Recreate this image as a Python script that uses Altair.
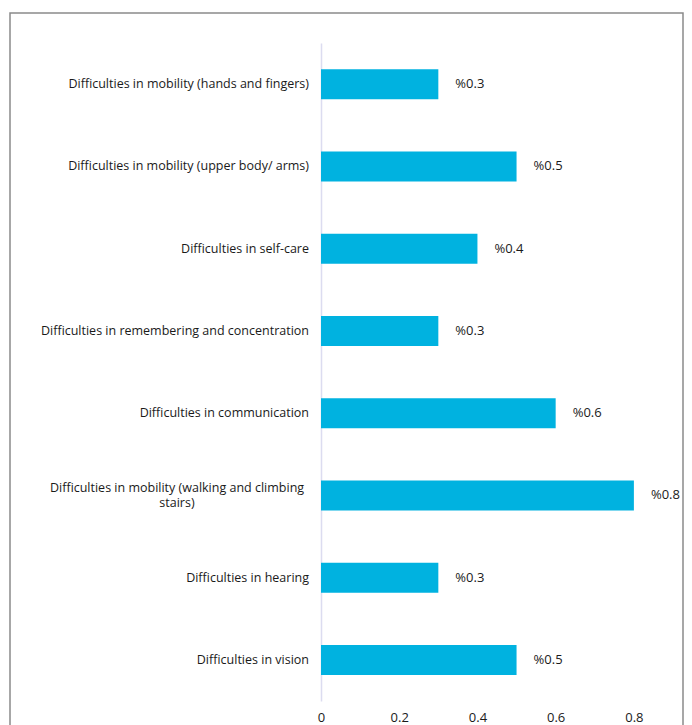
import altair as alt
import pandas as pd

categories = [
    "Difficulties in mobility (hands and fingers)",
    "Difficulties in mobility (upper body/ arms)",
    "Difficulties in self-care",
    "Difficulties in remembering and concentration",
    "Difficulties in communication",
    "Difficulties in mobility (walking and climbing stairs)",
    "Difficulties in hearing",
    "Difficulties in vision",
]
display_labels = [
    "Difficulties in mobility (hands and fingers)",
    "Difficulties in mobility (upper body/ arms)",
    "Difficulties in self-care",
    "Difficulties in remembering and concentration",
    "Difficulties in communication",
    "Difficulties in mobility (walking and climbing|stairs)",
    "Difficulties in hearing ",
    "Difficulties in vision",
]
values = [0.3, 0.5, 0.4, 0.3, 0.6, 0.8, 0.3, 0.5]
x_ticks = [0, 0.2, 0.4, 0.6, 0.8]

df = pd.DataFrame({"category": categories, "value": values, "disp": display_labels})
df["wrapped"] = df["disp"].str.contains(r"\|")

FONT = "Open Sans"

y_scale = alt.Scale(paddingInner=0.635, paddingOuter=0.3175)

y_enc = alt.Y(
    "category:N",
    sort=categories,
    title=None,
    scale=y_scale,
    axis=alt.Axis(
        labels=False,
        ticks=False,
        domainColor="#dcdcf0",
        domainWidth=1.5,
    ),
)
x_enc = alt.X(
    "value:Q",
    title=None,
    scale=alt.Scale(domain=[0, 0.9], nice=False),
    axis=alt.Axis(
        values=x_ticks,
        format="~g",
        labelFont=FONT,
        labelFontSize=13,
        labelColor="#1a1a1a",
        labelPadding=10,
        ticks=False,
        domain=False,
        grid=False,
        labelFlush=False,
    ),
)

bars = alt.Chart(df).mark_bar(color="#00b2e0", size=30).encode(x=x_enc, y=y_enc)

labels = (
    alt.Chart(df)
    .transform_calculate(label="'%' + format(datum.value, '.1f')")
    .mark_text(align="left", baseline="middle", dx=17, font=FONT, fontSize=13, color="#1a1a1a")
    .encode(x="value:Q", y=alt.Y("category:N", sort=categories), text="label:N")
)

cat_labels = (
    alt.Chart(df)
    .transform_filter("!datum.wrapped")
    .mark_text(align="right", baseline="middle", font=FONT, fontSize=12.5, color="#1a1a1a")
    .encode(x=alt.value(-12), y=alt.Y("category:N", sort=categories), text="disp:N")
)

wrapped_label = (
    alt.Chart(df)
    .transform_filter("datum.wrapped")
    .mark_text(align="center", baseline="middle", font=FONT, fontSize=12.5, color="#1a1a1a",
               lineBreak="|", lineHeight=15, dy=-7)
    .encode(x=alt.value(-144), y=alt.Y("category:N", sort=categories), text="disp:N")
)

frame = alt.Chart(df.head(1)).mark_rect(
    fill=None, stroke="#8a8a8a", strokeWidth=1.5
).encode(
    x=alt.value(-311), x2=alt.value(362), y=alt.value(-30), y2=alt.value(720)
)

chart = (
    alt.layer(frame, bars, labels, cat_labels, wrapped_label)
    .properties(
        width=352,
        height=658,
        autosize=alt.AutoSizeParams(type="none"),
        padding={"left": 313, "top": 35, "right": 11, "bottom": 24},
        background="white",
    )
    .configure_view(strokeWidth=0, stroke="transparent")
)

chart.save("out.html", embed_options={"renderer": "svg", "actions": False})
